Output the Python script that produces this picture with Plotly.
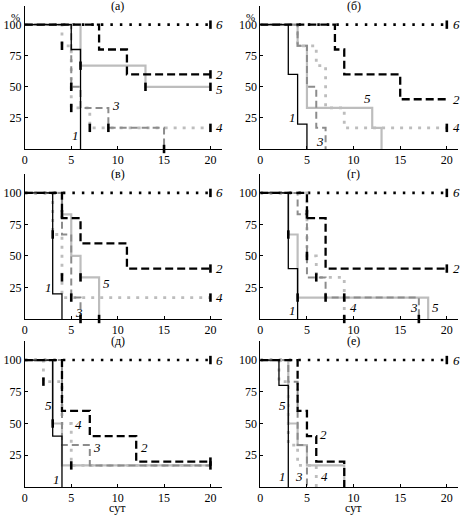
import plotly.graph_objects as go

# survival curves, % of animals alive vs days; each curve: (days, %)
panel_a = {
    1: ([0, 5, 6], [100, 80, 0]),
    2: ([0, 8, 11, 20], [100, 80, 60, 60]),
    3: ([0, 5, 6, 9, 15], [100, 50, 33, 17, 0]),
    4: ([0, 4, 5, 7, 20], [100, 83, 33, 17, 17]),
    5: ([0, 6, 13, 20], [100, 67, 50, 50]),
    6: ([0, 20], [100, 100]),
}
panel_b = {
    1: ([0, 3, 4, 5], [100, 60, 20, 0]),
    2: ([0, 8, 9, 15, 20], [100, 80, 60, 40, 40]),
    3: ([0, 4, 5, 6, 7], [100, 83, 50, 17, 0]),
    4: ([0, 4, 6, 7, 9, 20], [100, 83, 67, 33, 17, 17]),
    5: ([0, 4, 5, 12, 13], [100, 83, 33, 17, 0]),
    6: ([0, 20], [100, 100]),
}
panel_v = {
    1: ([0, 3, 4], [100, 20, 0]),
    2: ([0, 4, 6, 11, 20], [100, 80, 60, 40, 40]),
    3: ([0, 4, 5, 6], [100, 67, 17, 0]),
    4: ([0, 3, 4, 20], [100, 67, 17, 17]),
    5: ([0, 4, 5, 6, 8], [100, 83, 50, 33, 0]),
    6: ([0, 20], [100, 100]),
}
panel_g = {
    1: ([0, 3, 4], [100, 40, 0]),
    2: ([0, 5, 7, 20], [100, 80, 40, 40]),
    3: ([0, 4, 5, 7, 17], [100, 83, 33, 17, 0]),
    4: ([0, 5, 6, 9], [100, 50, 33, 0]),
    5: ([0, 3, 4, 18], [100, 67, 17, 0]),
    6: ([0, 20], [100, 100]),
}
panel_d = {
    1: ([0, 3, 4], [100, 40, 0]),
    2: ([0, 4, 7, 12, 20], [100, 60, 40, 20, 20]),
    3: ([0, 4, 7, 20], [100, 33, 17, 17]),
    4: ([0, 2, 4, 5, 20], [100, 83, 50, 17, 17]),
    5: ([0, 3, 4, 20], [100, 50, 17, 17]),
    6: ([0, 20], [100, 100]),
}
panel_e = {
    1: ([0, 2, 3], [100, 80, 0]),
    2: ([0, 4, 5, 6, 9], [100, 60, 40, 20, 0]),
    3: ([0, 3, 4, 5], [100, 83, 33, 0]),
    4: ([0, 2, 3, 4, 6], [100, 83, 33, 17, 0]),
    5: ([0, 3, 4, 5, 9], [100, 50, 33, 17, 0]),
    6: ([0, 20], [100, 100]),
}

# censored observations (day, %)
cens_a = [(4, 83), (5, 50), (5, 33), (6, 67), (7, 17), (9, 17), (13, 50), (15, 0),
          (20, 17), (20, 50), (20, 60), (20, 100)]
cens_b = [(20, 100), (20, 17)]
cens_v = [(3, 67), (4, 83), (4, 33), (5, 17), (6, 33), (6, 0), (8, 0), (20, 100), (20, 40), (20, 17)]
cens_g = [(3, 67), (4, 17), (5, 83), (5, 50), (6, 33), (7, 17), (9, 17), (9, 0), (17, 0),
          (20, 100), (20, 40)]
cens_d = [(2, 83), (3, 50), (5, 17), (20, 20), (20, 17), (20, 100)]
cens_e = [(20, 100)]

# curve number labels (number, day, %)
labels_a = [(1, 5.5, 11), (2, 20.4, 60), (3, 9.8, 35), (4, 20.4, 17), (5, 20.4, 48), (6, 20.4, 100)]
labels_b = [(1, 3.5, 25), (2, 20.4, 40), (3, 6.4, 6), (4, 20.4, 17), (5, 11.5, 41), (6, 20.4, 100)]
labels_v = [(1, 2.6, 25), (2, 20.4, 40), (3, 5.8, 5), (4, 20.4, 17), (5, 8.8, 28), (6, 20.4, 100)]
labels_g = [(1, 3.5, 7), (2, 20.4, 40), (3, 16.5, 9), (4, 10, 9), (5, 18.8, 9), (6, 20.4, 100)]
labels_d = [(1, 3.4, 6), (2, 12.9, 31), (3, 7.8, 31), (4, 5.8, 49), (5, 2.6, 64), (6, 20.4, 100)]
labels_e = [(1, 2.4, 8), (2, 6.8, 41), (3, 4.2, 8), (4, 6.9, 8), (5, 2.4, 64), (6, 20.4, 100)]

titles = ['(а)', '(б)', '(в)', '(г)', '(д)', '(е)']

styles = {
    1: dict(color='black', width=1.3, dash='solid'),
    2: dict(color='black', width=2.3, dash='8px,4px'),
    3: dict(color='#8c8c8c', width=2, dash='7px,4px'),
    4: dict(color='#bdbdbd', width=2.8, dash='3px,6px'),
    5: dict(color='#bdbdbd', width=2.2, dash='solid'),
    6: dict(color='black', width=2.6, dash='2.5px,7px'),
}
draw_order = [6, 5, 4, 3, 2, 1]

panels = [(panel_a, cens_a, labels_a), (panel_b, cens_b, labels_b),
          (panel_v, cens_v, labels_v), (panel_g, cens_g, labels_g),
          (panel_d, cens_d, labels_d), (panel_e, cens_e, labels_e)]

W, H = 461, 516
xdom = [(22 / W, 220 / W), (259 / W, 458 / W)]
ydom = [(1 - 149 / H, 1 - 6 / H), (1 - 319 / H, 1 - 174 / H), (1 - 487 / H, 1 - 341 / H)]
FONT = 'Liberation Serif'

fig = go.Figure()
annotations = []
for i, (curves, cens, labels) in enumerate(panels):
    row, col = i // 2, i % 2
    n = i + 1
    xa = 'x' if n == 1 else f'x{n}'
    ya = 'y' if n == 1 else f'y{n}'
    for k in draw_order:
        t, s = curves[k]
        fig.add_trace(go.Scatter(x=t, y=s, mode='lines', line=dict(shape='hv', **styles[k]),
                                 xaxis=xa, yaxis=ya, showlegend=False, hoverinfo='skip'))
    fig.add_trace(go.Scatter(x=[c[0] for c in cens], y=[c[1] for c in cens], mode='markers',
                             marker=dict(symbol='line-ns', size=6, line=dict(width=2.6, color='black')),
                             xaxis=xa, yaxis=ya, showlegend=False, hoverinfo='skip', cliponaxis=False))
    for num, lx, ly in labels:
        right = lx > 20
        annotations.append(dict(x=lx, y=ly, xref=xa, yref=ya, text=f'<i>{num}</i>', showarrow=False,
                                font=dict(family=FONT, size=13, color='black'),
                                xanchor='left' if right else 'center', yanchor='middle'))
    axis_x = dict(domain=xdom[col], range=[0, 21.2], tickvals=[0, 5, 10, 15, 20], ticks='inside',
                  ticklen=3, tickcolor='black', showline=True, linecolor='black', linewidth=1,
                  showgrid=False, zeroline=False, anchor=ya,
                  tickfont=dict(family=FONT, size=12, color='black'))
    axis_y = dict(domain=ydom[row], range=[0, 115], tickvals=[25, 50, 75, 100], ticks='inside',
                  ticklen=3, tickcolor='black', showline=True, linecolor='black', linewidth=1,
                  showgrid=False, zeroline=False, anchor=xa,
                  tickfont=dict(family=FONT, size=12, color='black'))
    fig.update_layout({('xaxis' if n == 1 else f'xaxis{n}'): axis_x,
                       ('yaxis' if n == 1 else f'yaxis{n}'): axis_y})
    annotations.append(dict(x=10, y=ydom[row][1], xref=xa, yref='paper', text=titles[i],
                            showarrow=False, yanchor='middle',
                            font=dict(family=FONT, size=12, color='black')))
    if row == 0:
        annotations.append(dict(x=xdom[col][0], y=1 - 9 / H, xref='paper', yref='paper', text='%',
                                showarrow=False, xanchor='right', xshift=-3,
                                font=dict(family=FONT, size=11, color='black')))
    if row == 2:
        annotations.append(dict(x=10, y=1 - 508 / H, xref=xa, yref='paper', text='сут',
                                showarrow=False, yanchor='middle',
                                font=dict(family=FONT, size=12, color='black')))

fig.update_layout(width=W, height=H, margin=dict(l=0, r=0, t=0, b=0),
                  paper_bgcolor='white', plot_bgcolor='white', annotations=annotations)
# drop the default page margin so the figure sits at the window corner
fig.write_html('out.html', config={'displayModeBar': False},
               post_script="document.body.style.margin='0';")
